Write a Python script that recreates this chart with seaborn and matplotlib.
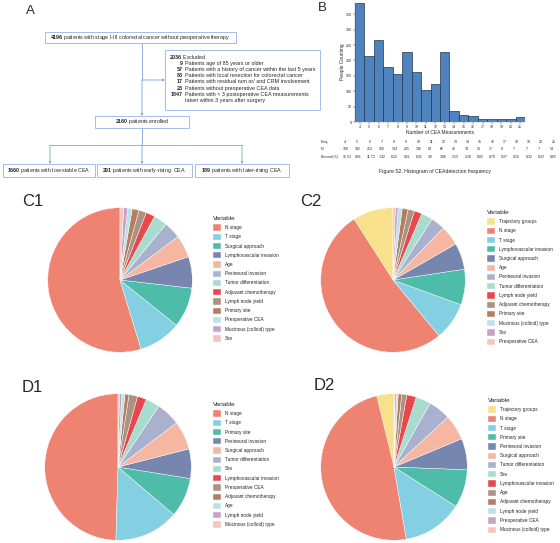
import numpy as np
import pandas as pd
import seaborn as sns
import matplotlib.pyplot as plt
from matplotlib.patches import Rectangle

W, H = 560, 543

# ---- panel B data ----
freq = [4, 5, 6, 7, 8, 9, 10, 11, 12, 13, 14, 15, 16, 17, 18, 19, 20, 21]
people = [387, 216, 268, 179, 157, 227, 163, 104, 125, 229, 36, 22, 19, 10, 9, 9, 9, 16]
table_n = [768, 192, 253, 160, 134, 205, 136, 84, 66, 46, 34, 20, 17, 8, 7, 7, 7, 14]
table_pct = ["35.53", "8.91", "11.73", "7.42", "6.22", "9.51", "6.31", "3.9", "3.06",
             "2.13", "1.58", "0.93", "0.79", "0.37", "0.32", "0.32", "0.32", "0.65"]

# ---- panel A data ----
n_total = 4196
n_excluded = 2036
excl_counts = ["9", "57", "83", "17", "23", "1847"]
excl_reasons = ["Patients age of 85 years or older",
                "Patients with a history of cancer within the last 5 years",
                "Patients with local resection for colorectal cancer",
                "Patients with residual tum or/ and CRM involvement",
                "Patients without preoperative CEA data",
                "Patients with < 3 postoperative CEA measurements"]
n_enrolled = 2160
group_counts = [1660, 291, 189]
group_names = ["patients with low-stable CEA", "patients with early-rising  CEA",
               "patients with later-rising CEA"]

# ---- pie data (share of importance, %) ----
c1_vars = ["N stage", "T stage", "Surgical approach", "Lymphovascular invasion", "Age",
           "Perineural invasion", "Tumor differentiation", "Adjuvant chemotherapy",
           "Lymph node yield", "Primary site", "Preoperative CEA",
           "Mucinous (colloid) type", "Sex"]
c1_vals = [54.5, 9.5, 8.9, 7.0, 5.0, 3.8, 3.0, 2.0, 1.7, 1.5, 1.0, 0.9, 0.8]

c2_vars = ["Trajectory groups", "N stage", "T stage", "Lymphovascular invasion",
           "Surgical approach", "Age", "Perineural invasion", "Tumor differentiation",
           "Lymph node yield", "Adjuvant chemotherapy", "Primary site",
           "Mucinous (colloid) type", "Sex", "Preoperative CEA"]
c2_vals = [8.9, 51.0, 8.3, 7.8, 5.8, 4.4, 3.1, 2.5, 1.7, 1.4, 1.3, 0.9, 0.6, 0.5]

d1_vars = ["N stage", "T stage", "Primary site", "Perineural invasion", "Surgical approach",
           "Tumor differentiation", "Sex", "Lymphovascular invasion", "Preoperative CEA",
           "Adjuvant chemotherapy", "Age", "Lymph node yield", "Mucinous (colloid) type"]
d1_vals = [49.5, 14.2, 8.7, 6.5, 6.3, 5.3, 3.1, 2.0, 1.9, 0.9, 0.7, 0.5, 0.3]

d2_vars = ["Trajectory groups", "N stage", "T stage", "Primary site", "Perineural invasion",
           "Surgical approach", "Tumor differentiation", "Sex", "Lymphovascular invasion",
           "Age", "Adjuvant chemotherapy", "Lymph node yield", "Preoperative CEA",
           "Mucinous (colloid) type"]
d2_vals = [3.8, 48.9, 13.3, 8.4, 6.9, 5.6, 4.9, 3.3, 2.1, 1.1, 0.8, 0.4, 0.3, 0.2]

base_cols = ["#EF8372", "#85CFE2", "#4DBDA9", "#7686AE", "#F5B6A2", "#A9B1CF",
             "#A8DCCF", "#E8484D", "#A99382", "#B57E63", "#B9E3EA", "#C5A2C6", "#F6C3C1"]
traj_col = "#F8E18B"

sns.set_style("ticks")
plt.rcParams["font.family"] = ["Liberation Sans", "DejaVu Sans"]
plt.rcParams["mathtext.fontset"] = "custom"
plt.rcParams["mathtext.rm"] = "Liberation Sans"
plt.rcParams["mathtext.bf"] = "Liberation Sans:bold"

fig = plt.figure(figsize=(W / 100, H / 100), dpi=100)
fig.patch.set_facecolor("white")

ov = fig.add_axes([0, 0, 1, 1])
ov.set_xlim(0, W)
ov.set_ylim(H, 0)
ov.axis("off")

fs = 3.9
box_c = "#A3BDE6"
line_c = "#7EA4DE"


def box(x0, y0, x1, y1):
    ov.add_patch(Rectangle((x0, y0), x1 - x0, y1 - y0, fill=False,
                           edgecolor=box_c, lw=0.7))


def arrow(x0, y0, x1, y1):
    ov.annotate("", xy=(x1, y1), xytext=(x0, y0),
                arrowprops=dict(arrowstyle="-|>", color=line_c, lw=0.6,
                                mutation_scale=3, shrinkA=0, shrinkB=0))


# ---- panel A flowchart ----
ov.text(30, 11, "A", fontsize=9.5, va="center", ha="center")
box(45, 32, 236, 43)
ov.text(140.5, 37.5, r"$\bf{%d}$ patients with stage I-III colorectal cancer without preoperative therapy" % n_total,
        fontsize=fs, ha="center", va="center")
box(165, 50, 320, 110)
ov.text(169, 57, r"$\bf{%d}$ Excluded" % n_excluded, fontsize=fs, va="center")
ys = 63.3
for cnt, reason in zip(excl_counts, excl_reasons):
    ov.text(183, ys, cnt, fontsize=fs, fontweight="bold", ha="right", va="center")
    ov.text(185, ys, reason, fontsize=fs, ha="left", va="center")
    ys += 6.2
ov.text(185, ys, "taken within 3 years after surgery", fontsize=fs, va="center")

ov.plot([142, 142], [43, 80], color=line_c, lw=0.6)
arrow(142, 80, 165, 80)
arrow(142, 80, 142, 116)
box(95, 116, 189, 128)
ov.text(142, 122, r"$\bf{%d}$ patients enrolled" % n_enrolled, fontsize=fs,
        ha="center", va="center")
ov.plot([142, 142], [128, 145], color=line_c, lw=0.6)
ov.plot([50, 242], [145, 145], color=line_c, lw=0.6)
gx = [50, 142, 242]
gbox = [(3, 95), (97, 192), (195, 289)]
for x, (b0, b1), cnt, name in zip(gx, gbox, group_counts, group_names):
    arrow(x, 145, x, 164)
    box(b0, 164, b1, 177)
    ov.text((b0 + b1) / 2, 170.5, r"$\bf{%d}$ %s" % (cnt, name), fontsize=fs,
            ha="center", va="center")

# ---- panel B histogram ----
ov.text(322, 8, "B", fontsize=9.5, va="center", ha="center")
axb = fig.add_axes([355 / W, 1 - 122 / H, 170 / W, 120 / H])
sns.histplot(x=freq, weights=people, discrete=True, ax=axb, color="#4F83BE",
             edgecolor="#23354F", linewidth=0.5, alpha=1)
axb.set_xlim(3.5, 21.5)
axb.set_ylim(0, 390)
axb.set_xticks(freq)
axb.set_yticks(range(0, 351, 50))
axb.tick_params(labelsize=2.6, length=1.2, width=0.3, pad=1)
axb.set_xlabel("Number of CEA Measurements", fontsize=3.5, labelpad=0.5)
axb.set_ylabel("People Counting", fontsize=3.5, labelpad=1)
for s in ["left", "bottom"]:
    axb.spines[s].set_linewidth(0.3)
    axb.spines[s].set_color("#888888")
sns.despine(ax=axb)

col_x = 342.5 + 12.2 * np.arange(len(freq))
tfs = 2.5
ov.text(321, 142, "Freq.", fontsize=tfs, va="center")
ov.text(321, 149.5, "N", fontsize=tfs, va="center")
ov.text(321, 157, "Percent(%)", fontsize=tfs, va="center")
for x, f, n, p in zip(col_x, freq, table_n, table_pct):
    ov.text(x + 1.5, 142, str(f), fontsize=tfs, va="center", ha="left")
    ov.text(x, 149.5, str(n), fontsize=tfs, va="center", ha="left")
    ov.text(x, 157, p, fontsize=tfs, va="center", ha="left")
ov.text(435, 172, "Figure S2. Histogram of CEAdetection frequency", fontsize=3.7,
        ha="center", va="center")


# ---- pies ----
def draw_pie(cx, cy, r, labels, values, colors, tag, tag_xy, leg_xy):
    ax = fig.add_axes([(cx - r) / W, 1 - (cy + r) / H, 2 * r / W, 2 * r / H])
    wedges, _ = ax.pie(values, colors=colors, startangle=90, counterclock=True,
                       radius=1, wedgeprops=dict(linewidth=0.3, edgecolor="white"))
    ax.set_xlim(-1.01, 1.01)
    ax.set_ylim(-1.01, 1.01)
    ax.legend(wedges, labels, title="Variable", loc="upper left",
              bbox_to_anchor=(leg_xy[0] / W, 1 - leg_xy[1] / H),
              bbox_transform=fig.transFigure, frameon=False, fontsize=3.4,
              title_fontsize=4.6, handlelength=1.65, handleheight=1.65,
              labelspacing=0.64, borderpad=0, alignment="left",
              handletextpad=0.8)
    ov.text(tag_xy[0], tag_xy[1], tag, fontsize=12, ha="left", va="center")


draw_pie(120, 280, 73, c1_vars, c1_vals, base_cols, "C1", (22, 202), (211, 214))
draw_pie(393, 280, 73, c2_vars, c2_vals, [traj_col] + base_cols, "C2", (300, 202), (485, 208))
draw_pie(118, 467, 74, d1_vars, d1_vals, base_cols, "D1", (22, 388), (211, 400))
draw_pie(394, 467, 74, d2_vars, d2_vals, [traj_col] + base_cols, "D2", (314, 385), (486, 396))

fig.savefig("out.png", dpi=100, facecolor="white")
